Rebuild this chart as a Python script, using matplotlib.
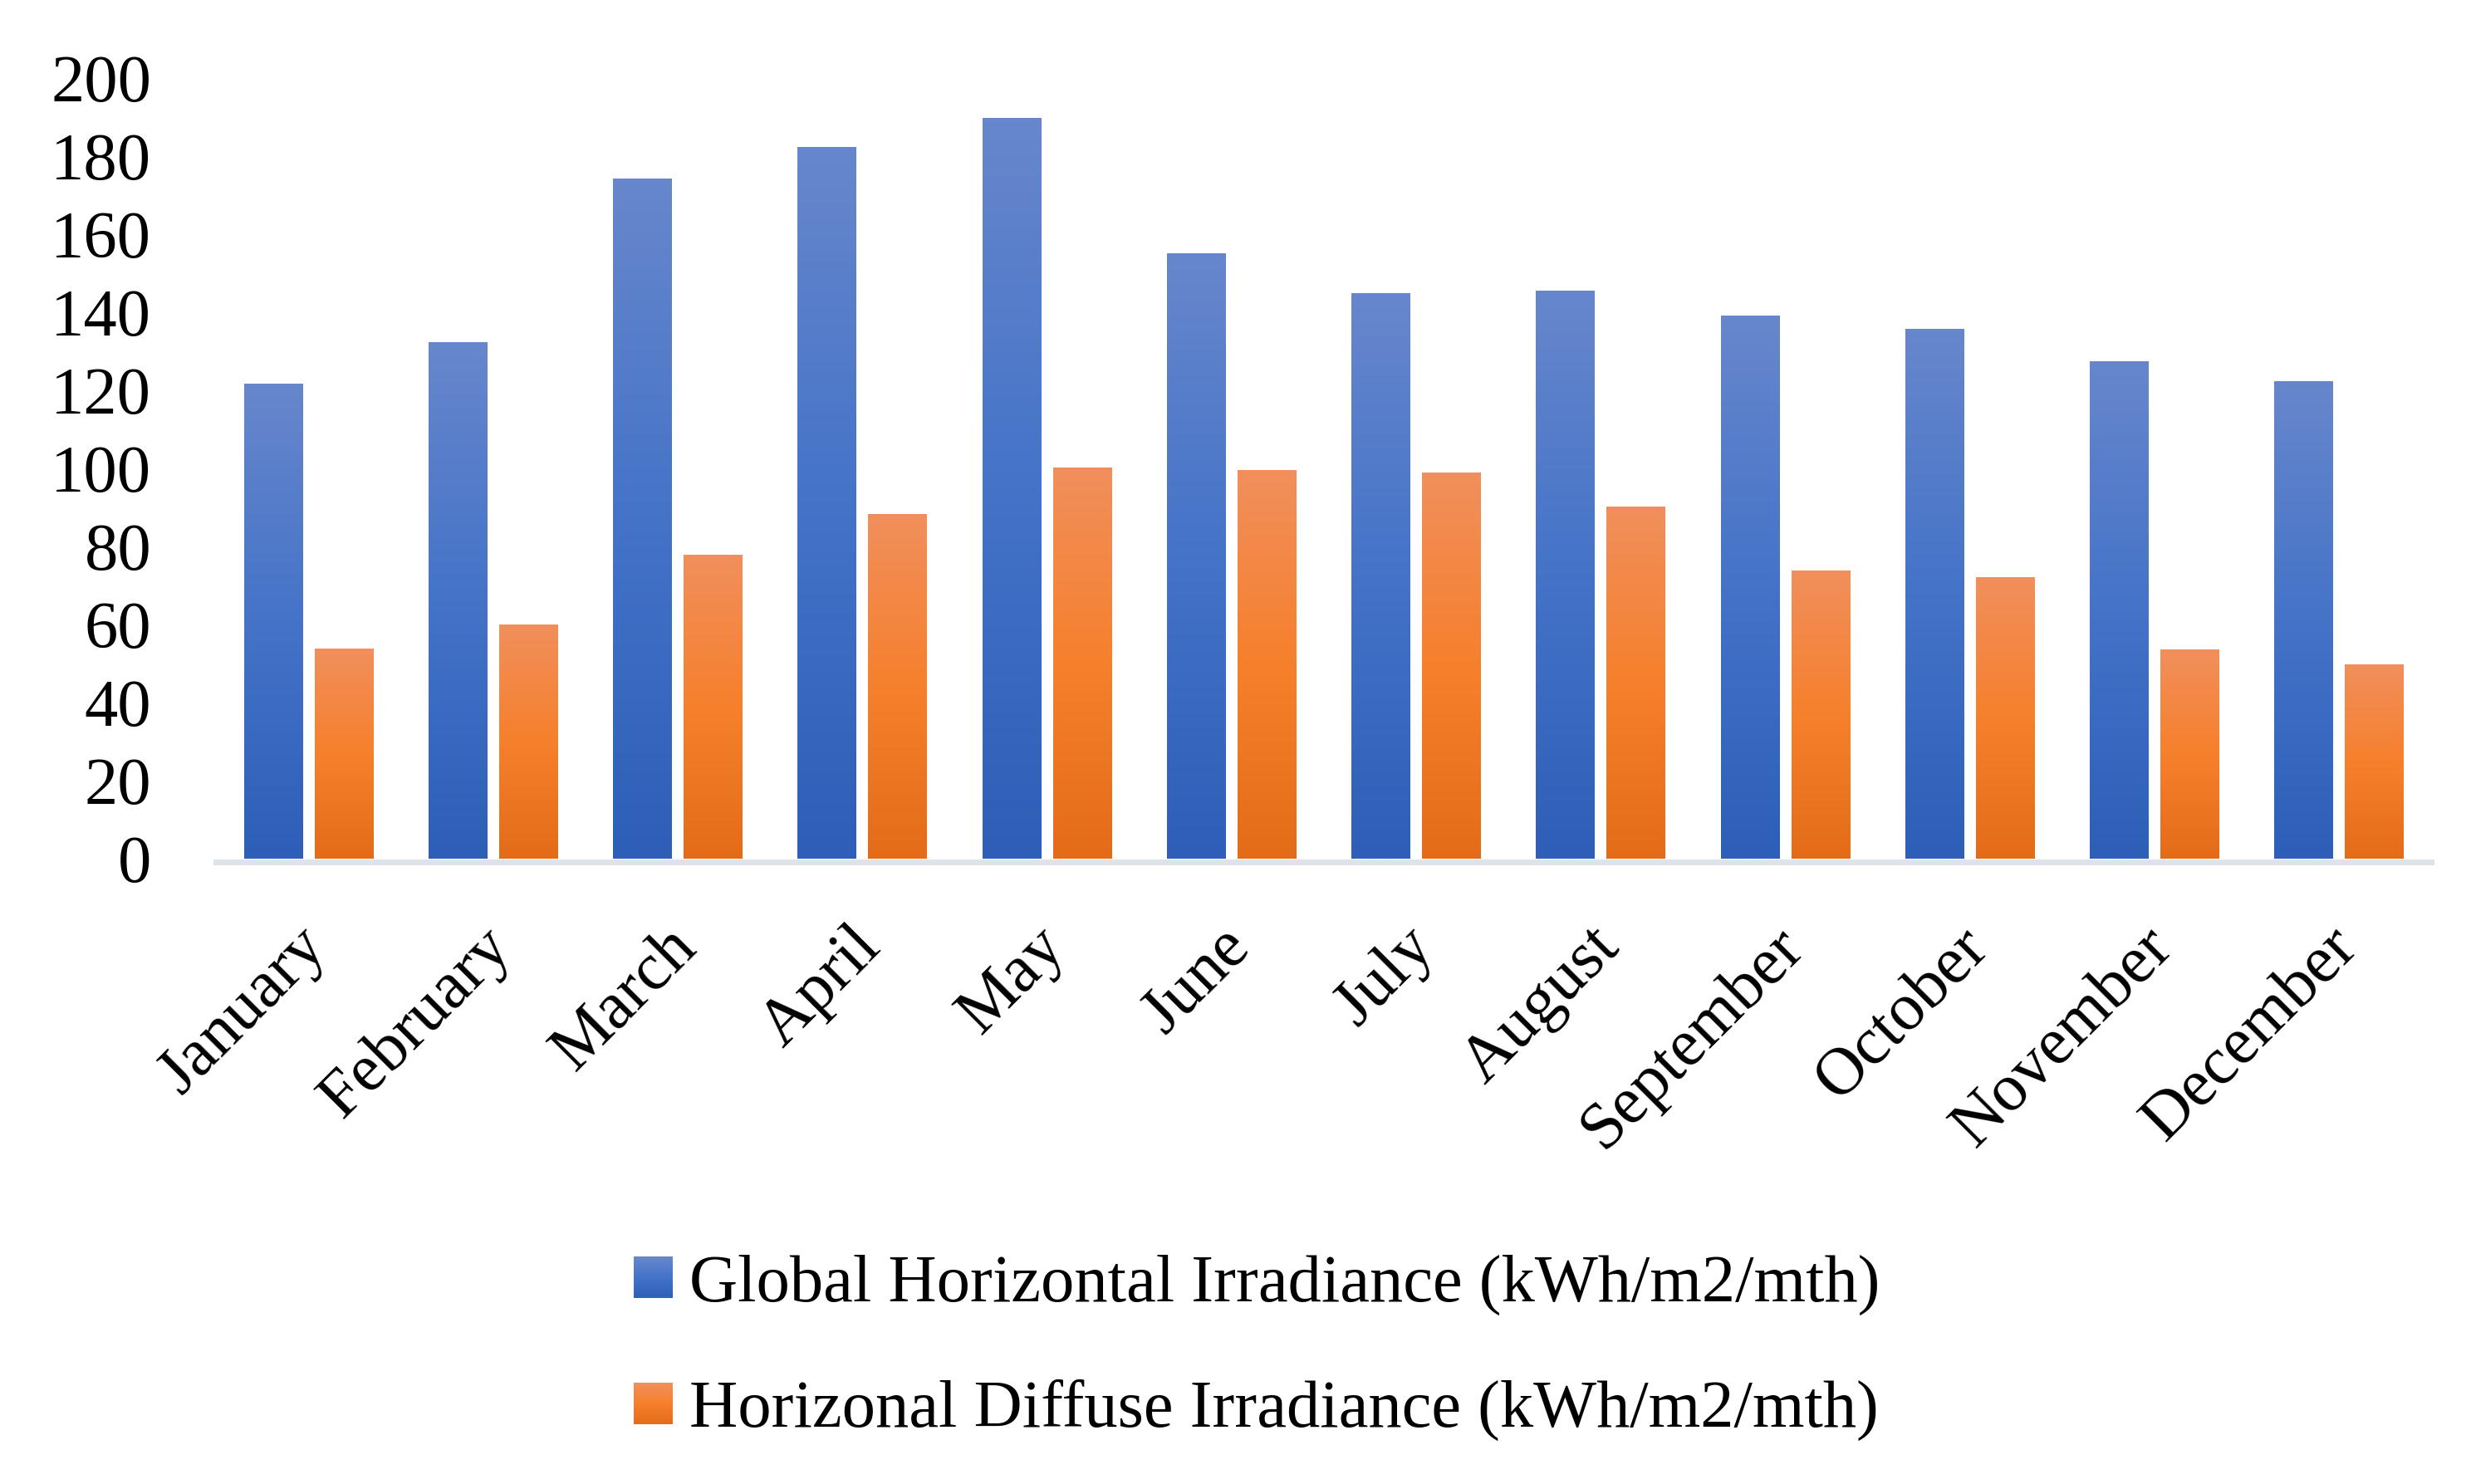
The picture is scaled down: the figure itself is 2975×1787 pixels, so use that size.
import numpy as np
import matplotlib
matplotlib.use("Agg")
import matplotlib.pyplot as plt
from matplotlib.colors import LinearSegmentedColormap
from matplotlib.patches import Rectangle
from matplotlib.legend_handler import HandlerBase
from matplotlib.transforms import ScaledTranslation

# ---- data ----
months = ["January", "February", "March", "April", "May", "June", "July",
          "August", "September", "October", "November", "December"]
ghi = [121.7, 132.2, 174.2, 182.2, 189.7, 155.0, 144.7, 145.5, 139.1, 135.6, 127.4, 122.2]
dhi = [53.7, 59.9, 77.7, 88.2, 100.2, 99.5, 98.8, 90.1, 73.7, 72.0, 53.5, 49.6]
series_labels = ["Global Horizontal Irradiance (kWh/m2/mth)",
                 "Horizonal Diffuse Irradiance (kWh/m2/mth)"]
yticks = [0, 20, 40, 60, 80, 100, 120, 140, 160, 180, 200]

# ---- style ----
FONT = ["Liberation Serif", "DejaVu Serif"]
FS = 58
plt.rcParams["font.family"] = FONT

blue_cmap = LinearSegmentedColormap.from_list(
    "blue", [(0.0, "#6787CC"), (0.5, "#4473C8"), (1.0, "#2D5FB8")])
orange_cmap = LinearSegmentedColormap.from_list(
    "orange", [(0.0, "#F18F5C"), (0.5, "#F6802C"), (1.0, "#E46C19")])

W, H, DPI = 2975, 1787, 100
fig = plt.figure(figsize=(W / DPI, H / DPI), dpi=DPI)
ax = fig.add_axes([260 / W, 1 - 1034 / H, (2927 - 260) / W, (1034 - 94) / H])

x = np.arange(len(months))
bw = 0.315
off = 0.191
grad = np.linspace(0, 1, 256).reshape(-1, 1)

for vals, sign, cmap in [(ghi, -1, blue_cmap), (dhi, 1, orange_cmap)]:
    bars = ax.bar(x + sign * off, vals, bw, color="none", edgecolor="none")
    for r in bars:
        ax.imshow(grad, extent=[r.get_x(), r.get_x() + r.get_width(), 0, r.get_height()],
                  aspect="auto", cmap=cmap, origin="upper", interpolation="bilinear",
                  zorder=2)

ax.set_xlim(-0.5, len(months) - 0.5)
ax.set_ylim(0, 200)
ax.set_yticks(yticks)
ax.set_yticklabels([str(v) for v in yticks])
ax.tick_params(axis="y", length=0, pad=56, labelsize=FS)
ax.set_xticks(x)
ax.set_xticklabels(months)
ax.tick_params(axis="x", length=0, pad=66, labelsize=FS)

for s in ["top", "right", "left"]:
    ax.spines[s].set_visible(False)
ax.spines["bottom"].set_color("#DEE3EA")
ax.spines["bottom"].set_linewidth(7 * 72 / DPI)
ax.spines["bottom"].set_position(("outward", 3.5 * 72 / DPI))
ax.spines["bottom"].set_zorder(1)


class GradHandler(HandlerBase):
    def __init__(self, cmap):
        super().__init__()
        self.cmap = cmap

    def create_artists(self, legend, orig_handle, xdescent, ydescent, width, height,
                       fontsize, trans):
        n = 40
        arts = []
        for k in range(n):
            y0 = -ydescent + height * (n - 1 - k) / n
            arts.append(Rectangle((-xdescent, y0), width, height / n * 1.05,
                                  facecolor=self.cmap(k / (n - 1)), edgecolor="none",
                                  transform=trans))
        return arts


h1 = Rectangle((0, 0), 1, 1)
h2 = Rectangle((0, 0), 1, 1)
fig.legend([h1, h2], series_labels, loc="center left",
           bbox_to_anchor=(763 / W, 1 - 1623 / H), frameon=False,
           fontsize=FS, handlelength=0.58, handleheight=0.58, handletextpad=0.25,
           labelspacing=0.96, borderpad=0, borderaxespad=0,
           handler_map={h1: GradHandler(blue_cmap), h2: GradHandler(orange_cmap)})

fig.canvas.draw()
for lab in ax.get_xticklabels():
    lab.set_fontsize(FS)
    lab.set_rotation(45)
    lab.set_rotation_mode("anchor")
    lab.set_ha("right")
    lab.set_va("center")
    lab.set_transform(lab.get_transform() + ScaledTranslation(0.11, 0, fig.dpi_scale_trans))

fig.savefig("out.png", dpi=DPI, facecolor="white")
